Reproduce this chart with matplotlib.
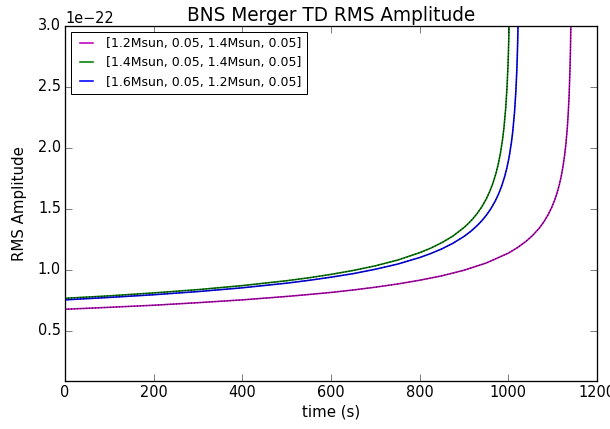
import numpy as np
import matplotlib
matplotlib.use('Agg')
import matplotlib.pyplot as plt

plt.style.use('classic')

# time (s) and RMS amplitude (in units of 1e-22) for each binary
t_m = [0, 100, 200, 300, 400, 500, 550, 600, 650, 700, 750, 800, 850, 900,
       950, 1000, 1020, 1040, 1055, 1070, 1080, 1090, 1098, 1105, 1110, 1115,
       1119, 1123, 1127, 1130, 1133, 1135, 1137, 1139, 1140, 1141, 1142]
amp_m = [0.678, 0.694, 0.711, 0.732, 0.755, 0.783, 0.799, 0.816, 0.836, 0.859,
         0.885, 0.916, 0.952, 0.998, 1.057, 1.138, 1.182, 1.235, 1.284, 1.344,
         1.394, 1.455, 1.514, 1.578, 1.633, 1.699, 1.763, 1.842, 1.942, 2.039,
         2.165, 2.277, 2.424, 2.637, 2.788, 2.996, 3.32]

t_g = [0, 100, 200, 300, 400, 500, 550, 600, 650, 700, 750, 800, 825, 850,
       875, 900, 910, 920, 930, 940, 950, 958, 965, 972, 977, 982, 987, 990,
       994, 997, 999, 1000, 1001, 1002, 1003]
amp_g = [0.768, 0.788, 0.812, 0.839, 0.872, 0.912, 0.936, 0.964, 0.996, 1.034,
         1.081, 1.142, 1.179, 1.224, 1.278, 1.348, 1.382, 1.420, 1.465, 1.517,
         1.581, 1.643, 1.709, 1.791, 1.864, 1.954, 2.071, 2.163, 2.324, 2.497,
         2.659, 2.763, 2.892, 3.058, 3.287]

t_b = [0, 100, 200, 300, 400, 500, 550, 600, 650, 700, 750, 800, 825, 850,
       875, 900, 915, 930, 940, 950, 960, 970, 978, 985, 992, 997, 1002, 1007,
       1010, 1014, 1017, 1019, 1020, 1021, 1022, 1023]
amp_b = [0.755, 0.775, 0.797, 0.823, 0.854, 0.892, 0.915, 0.941, 0.970, 1.006,
         1.048, 1.102, 1.135, 1.173, 1.219, 1.275, 1.316, 1.365, 1.403, 1.447,
         1.499, 1.562, 1.623, 1.689, 1.769, 1.841, 1.930, 2.047, 2.136, 2.296,
         2.467, 2.627, 2.730, 2.858, 3.021, 3.246]

labels = ['[1.2Msun, 0.05, 1.4Msun, 0.05]',
          '[1.4Msun, 0.05, 1.4Msun, 0.05]',
          '[1.6Msun, 0.05, 1.2Msun, 0.05]']
colors = ['m', 'g', 'b']

plt.rcParams['xtick.labelsize'] = 14.5
plt.rcParams['ytick.labelsize'] = 14.5
plt.rcParams['xtick.major.size'] = 7
plt.rcParams['ytick.major.size'] = 7
plt.rcParams['axes.linewidth'] = 1.3

fig = plt.figure(figsize=(610 / 72, 429 / 72), dpi=72, facecolor='white')
ax = fig.add_axes([0.1066, 0.1119, 0.8721, 0.8275])

series = [(t_m, amp_m), (t_g, amp_g), (t_b, amp_b)]
for (t, a), c, lab in zip(series, colors, labels):
    a = np.array(a) * 1e-22
    ax.plot(t, a, color=c, lw=1.6, label=lab)
    # overlay of the fitted curve
    ax.plot(t, a, color='k', lw=1.0, linestyle=(0, (1, 2)))

ax.set_xlim(0, 1200)
ax.set_ylim(0.09e-22, 3.0e-22)
ax.set_yticks(np.arange(0.5, 3.01, 0.5) * 1e-22)
ax.set_xlabel('time (s)', fontsize=15)
ax.set_ylabel('RMS Amplitude', fontsize=15, labelpad=11)
ax.set_title('BNS Merger TD RMS Amplitude', fontsize=18.5)
ax.legend(loc='upper left', fontsize=12.5, handlelength=1.6)

fig.savefig('out.png', dpi=72, facecolor='white')
